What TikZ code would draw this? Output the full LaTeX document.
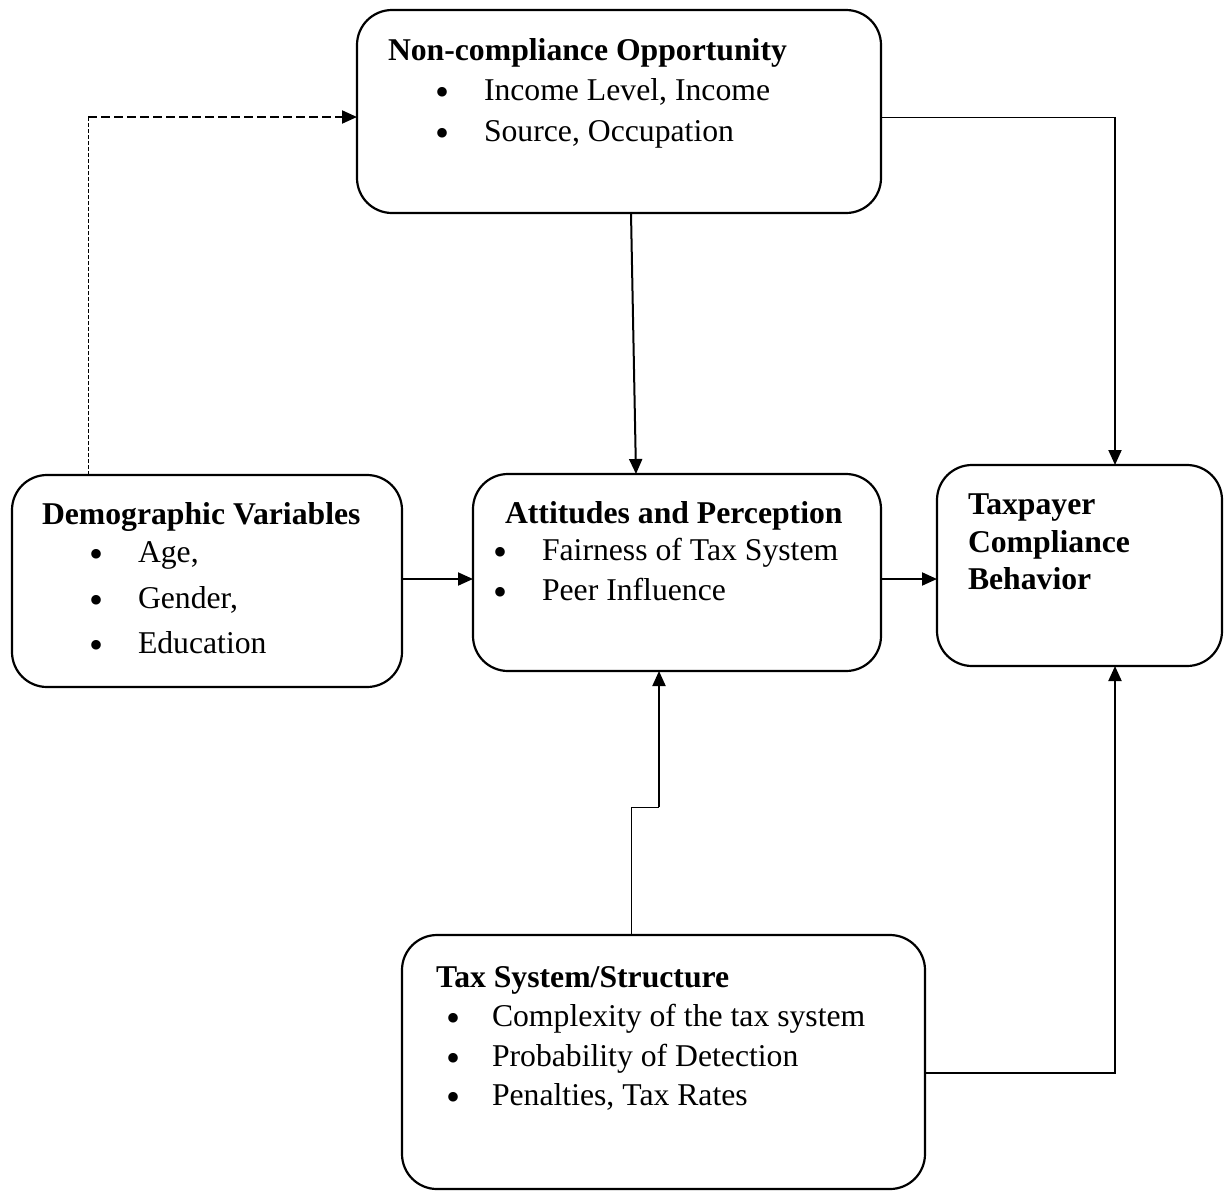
\documentclass[tikz,border=0pt]{standalone}
\usepackage{fontspec}
\setmainfont{Liberation Serif}
\usetikzlibrary{arrows.meta}
\tikzset{
  box/.style={draw, line width=2.2pt, rounded corners=35pt, inner sep=0pt, outer sep=0pt},
  txt/.style={inner sep=0pt, outer sep=0pt, anchor=base west, font=\fontsize{31.7}{38}\selectfont},
  ttl/.style={txt, font=\fontsize{31.7}{38}\selectfont\bfseries},
  bul/.style={inner sep=0pt, outer sep=0pt, anchor=base, font=\fontsize{40}{40}\selectfont},
  thinline/.style={line width=1pt},
  arr/.style={line width=2pt, -{Triangle[length=15pt,width=13pt]}},
  dashthin/.style={line width=1pt, dash pattern=on 4pt off 2pt},
  dashthick/.style={line width=2pt, dash pattern=on 9pt off 4pt, -{Triangle[length=15pt,width=13pt]}},
}
\begin{document}
\begin{tikzpicture}[x=1pt, y=-1pt]
\useasboundingbox[fill=white] (0,0) rectangle (1224,1192);
% boxes
\node[box, minimum width=524pt, minimum height=203pt] (nc) at (619,111.5) {};
\node[box, minimum width=390pt, minimum height=212pt] (demo) at (207,581) {};
\node[box, minimum width=408pt, minimum height=197pt] (att) at (677,572.5) {};
\node[box, minimum width=285pt, minimum height=201pt] (tp) at (1079.5,565.5) {};
\node[box, minimum width=523pt, minimum height=254pt] (tax) at (663.5,1062) {};
% texts: non-compliance
\node[ttl] (nct) at (388,60) {Non-compliance Opportunity};
\node[bul] (ncb1) at (442,105) {•};
\node[txt] (nci1) at (484,100) {Income Level, Income};
\node[bul] (ncb2) at (442,146) {•};
\node[txt] (nci2) at (484,141) {Source, Occupation};
% demographic
\node[ttl] (demot) at (42,524) {Demographic Variables};
\node[bul] (demob1) at (97,567) {•};
\node[txt] (demoi1) at (138,562) {Age,};
\node[bul] (demob2) at (97,613) {•};
\node[txt] (demoi2) at (138,608) {Gender,};
\node[bul] (demob3) at (97,658) {•};
\node[txt] (demoi3) at (138,653) {Education};
% attitudes
\node[ttl] (attt) at (505,523) {Attitudes and Perception};
\node[bul] (attb1) at (500,565) {•};
\node[txt] (atti1) at (542,560) {Fairness of Tax System};
\node[bul] (attb2) at (500,605) {•};
\node[txt] (atti2) at (542,600) {Peer Influence};
% taxpayer
\node[ttl] (tp1) at (968,514) {Taxpayer};
\node[ttl] (tp2) at (968,552) {Compliance};
\node[ttl] (tp3) at (968,589) {Behavior};
% tax system
\node[ttl] (taxt) at (436,987) {Tax System/Structure};
\node[bul] (taxb1) at (453,1031) {•};
\node[txt] (taxi1) at (492,1026) {Complexity of the tax system};
\node[bul] (taxb2) at (453,1071) {•};
\node[txt] (taxi2) at (492,1066) {Probability of Detection};
\node[bul] (taxb3) at (453,1110) {•};
\node[txt] (taxi3) at (492,1105) {Penalties, Tax Rates};
% helper coordinates
\coordinate (xd) at (88,117);
\coordinate (xa) at (631,0);
\coordinate (xb) at (636,0);
\coordinate (r1) at (1115,117);
\coordinate (y1) at (0,579);
\coordinate (s1) at (631,807);
\coordinate (s2) at (659,807);
\coordinate (s3) at (1115,1073);
% connectors
\draw[dashthin] (xd |- demo.north) -- (xd);
\draw[dashthick] (xd) -- (xd -| nc.west);
\draw[arr] (xa |- nc.south) -- (xb |- att.north);
\draw[thinline] (nc.east |- r1) -- (r1);
\draw[arr] (r1) -- (r1 |- tp.north);
\draw[arr] (demo.east |- y1) -- (att.west |- y1);
\draw[arr] (att.east |- y1) -- (tp.west |- y1);
\draw[thinline] (s1 |- tax.north) -- (s1) -- (s2);
\draw[arr] (s2) -- (s2 |- att.south);
\draw[arr] (tax.east |- s3) -- (s3) -- (s3 |- tp.south);
\end{tikzpicture}
\end{document}
